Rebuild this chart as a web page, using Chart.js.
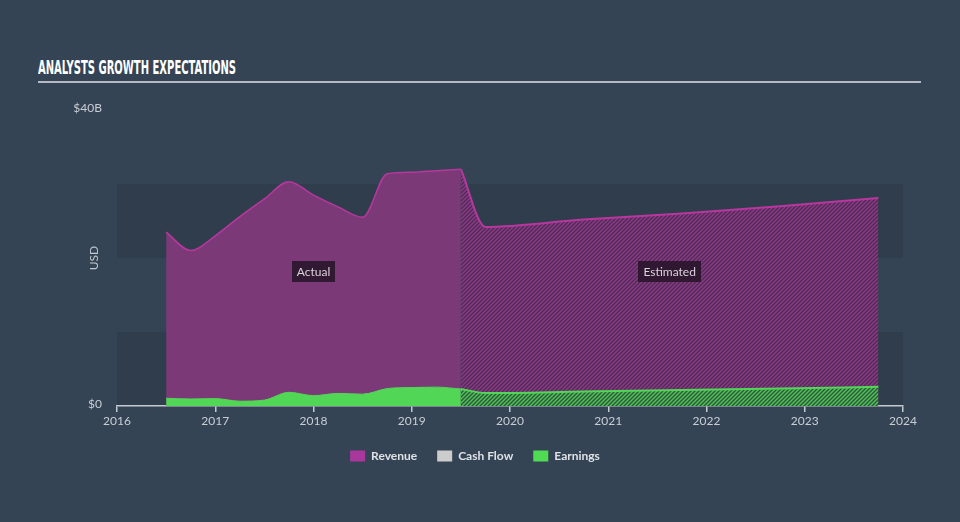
<!DOCTYPE html>
<html>
<head>
<meta charset="utf-8">
<script src="https://cdn.jsdelivr.net/npm/chart.js@4.4.0/dist/chart.umd.min.js"></script>
<style>
  html, body { margin: 0; padding: 0; background: #344454; }
  #wrap { position: relative; width: 960px; height: 522px; }
  #title {
    position: absolute; left: 38px; top: 58px;
    font: bold 19px "Liberation Sans Narrow", "DejaVu Sans Condensed", sans-serif;
    line-height: 19px; color: #ffffff; white-space: nowrap;
    transform-origin: left top;
  }
  #rule { position: absolute; left: 38px; top: 81px; width: 883px; height: 2px; background: #b4bac3; }
  #chart { position: absolute; left: 0; top: 0; }
</style>
</head>
<body>
<div id="wrap">
  <div id="title">ANALYSTS GROWTH EXPECTATIONS</div>
  <div id="rule"></div>
  <canvas id="chart" width="960" height="522"></canvas>
</div>
<script>
// values in billions of USD, x in fractional years
const revActualX = [2016.5, 2016.75, 2017, 2017.25, 2017.5, 2017.75, 2018, 2018.25, 2018.5, 2018.75, 2019, 2019.25, 2019.5];
const revActual = [23.5, 21.0, 23.0, 25.6, 28.0, 30.3, 28.5, 26.9, 25.5, 31.4, 31.6, 31.8, 32.0];
const earnActual = [1.05, 0.95, 1.0, 0.65, 0.8, 1.85, 1.4, 1.7, 1.6, 2.35, 2.5, 2.55, 2.3];

const estX = [2019.5, 2019.75, 2020.75, 2021.75, 2022.75, 2023.75];
const revEst = [32.0, 24.2, 25.2, 26.0, 27.0, 28.1];
const earnEst = [2.3, 1.75, 1.95, 2.15, 2.35, 2.6];

const xTicks = [2016, 2017, 2018, 2019, 2020, 2021, 2022, 2023, 2024];
const yLabels = { 0: "$0", 40: "$40B" };
const legendNames = ["Revenue", "Cash Flow", "Earnings"];
const legendColors = ["#a8389b", "#cccccc", "#4fdc52"];

// squeeze the title to the condensed width of the original
(function () {
  const t = document.getElementById("title");
  const m = document.createElement("canvas").getContext("2d");
  m.font = getComputedStyle(t).font;
  const w = m.measureText(t.textContent).width;
  t.style.transform = "scaleX(" + (198 / w) + ")";
})();

function hatch(bg, fg) {
  const c = document.createElement("canvas");
  c.width = 4; c.height = 4;
  const g = c.getContext("2d");
  g.fillStyle = bg;
  g.fillRect(0, 0, 4, 4);
  g.strokeStyle = fg;
  g.lineWidth = 1.4;
  g.beginPath();
  g.moveTo(0, 4); g.lineTo(4, 0);
  g.moveTo(-1, 1); g.lineTo(1, -1);
  g.moveTo(3, 5); g.lineTo(5, 3);
  g.stroke();
  return g.createPattern(c, "repeat");
}

const pts = (xs, ys) => xs.map((x, i) => ({ x: x, y: ys[i] }));
const font = "Lato, 'Open Sans', sans-serif";

const bands = {
  id: "bands",
  beforeDraw(chart) {
    const { ctx, chartArea, scales } = chart;
    ctx.save();
    ctx.fillStyle = "rgba(0,0,0,0.09)";
    [[0, 10], [20, 30]].forEach(([a, b]) => {
      const y1 = scales.y.getPixelForValue(b);
      const y2 = scales.y.getPixelForValue(a);
      ctx.fillRect(chartArea.left, y1, chartArea.right - chartArea.left, y2 - y1);
    });
    ctx.restore();
  }
};

const notes = {
  id: "notes",
  afterDatasetsDraw(chart) {
    const { ctx, scales } = chart;
    ctx.save();
    ctx.font = "12px " + font;
    ctx.textAlign = "center";
    ctx.textBaseline = "middle";
    const boxes = [
      ["Actual", (revActualX[0] + revActualX[revActualX.length - 1]) / 2],
      ["Estimated", (estX[0] + estX[estX.length - 1]) / 2]
    ];
    boxes.forEach(([txt, xv]) => {
      const cx = scales.x.getPixelForValue(xv);
      const cy = scales.y.getPixelForValue(18.2);
      const w = ctx.measureText(txt).width + 10;
      ctx.fillStyle = "rgba(34,18,36,0.82)";
      ctx.fillRect(Math.round(cx - w / 2), Math.round(cy - 10.5), Math.round(w), 21);
      ctx.fillStyle = "#d9d3da";
      ctx.fillText(txt, cx, cy + 1);
    });
    // axis title
    ctx.translate(94, 258);
    ctx.rotate(-Math.PI / 2);
    ctx.fillStyle = "#c3c8cf";
    ctx.fillText("USD", 0, 0);
    ctx.restore();
  }
};

const ctx = document.getElementById("chart").getContext("2d");
new Chart(ctx, {
  type: "line",
  data: {
    datasets: [
      {
        label: "Revenue",
        data: pts(revActualX, revActual),
        fill: "origin",
        backgroundColor: "#7b3a77",
        borderColor: "#b8379f",
        borderWidth: 1.5,
        pointRadius: 0,
        cubicInterpolationMode: "monotone",
        order: 3,
      },
      {
        label: "Revenue estimate",
        data: pts(estX, revEst),
        fill: "origin",
        backgroundColor: hatch("#4e2c55", "#8e3a88"),
        borderColor: "#b8379f",
        borderWidth: 2,
        pointRadius: 0,
        cubicInterpolationMode: "monotone",
        order: 3,
      },
      {
        label: "Earnings",
        data: pts(revActualX, earnActual),
        fill: "origin",
        backgroundColor: "#51d656",
        borderColor: "#51d656",
        borderWidth: 1,
        pointRadius: 0,
        cubicInterpolationMode: "monotone",
        order: 1,
      },
      {
        label: "Earnings estimate",
        data: pts(estX, earnEst),
        fill: "origin",
        backgroundColor: hatch("#2f5640", "#4fc652"),
        borderColor: "#51d656",
        borderWidth: 2,
        pointRadius: 0,
        cubicInterpolationMode: "monotone",
        order: 1,
      },
    ],
  },
  options: {
    responsive: false,
    animation: false,
    layout: { padding: { left: 0, right: 10, top: 110, bottom: 50 } },
    plugins: {
      tooltip: { enabled: false },
      legend: {
        position: "bottom",
        onClick: null,
        labels: {
          boxWidth: 15,
          boxHeight: 11,
          padding: 20,
          color: "#dfe2e6",
          font: { family: font, size: 12, weight: "bold" },
          generateLabels: () => legendNames.map((n, i) => ({
            text: n,
            fillStyle: legendColors[i],
            strokeStyle: legendColors[i],
            lineWidth: 0,
            hidden: false,
            fontColor: "#dfe2e6",
          })),
        },
      },
    },
    scales: {
      x: {
        type: "linear",
        min: 2016,
        max: 2024,
        z: 1,
        afterBuildTicks: (s) => { s.ticks = xTicks.map(v => ({ value: v })); },
        afterFit: (s) => { s.height = 24; },
        ticks: {
          color: "#c9ced5",
          font: { family: font, size: 12 },
          padding: 2,
          maxRotation: 0,
          callback: (v) => String(v),
        },
        grid: { drawOnChartArea: false, drawTicks: true, tickLength: 6, color: "#c4c9d0", lineWidth: 1.5 },
        border: { display: true, color: "#c4c9d0", width: 1.5 },
      },
      y: {
        min: 0,
        max: 40,
        afterFit: (s) => { s.width = 117; },
        ticks: {
          stepSize: 10,
          color: "#c9ced5",
          font: { family: font, size: 12 },
          padding: 15,
          labelOffset: -2,
          callback: (v) => yLabels[v] || "",
        },
        grid: { display: false, drawTicks: false },
        border: { display: false },
      },
      // empty right-hand gutter so the legend stays centred on the page
      gutter: {
        type: "linear",
        position: "right",
        afterFit: (s) => { s.width = 47; },
        ticks: { display: false },
        grid: { display: false, drawTicks: false },
        border: { display: false },
      },
    },
  },
  plugins: [bands, notes],
});
</script>
</body>
</html>
